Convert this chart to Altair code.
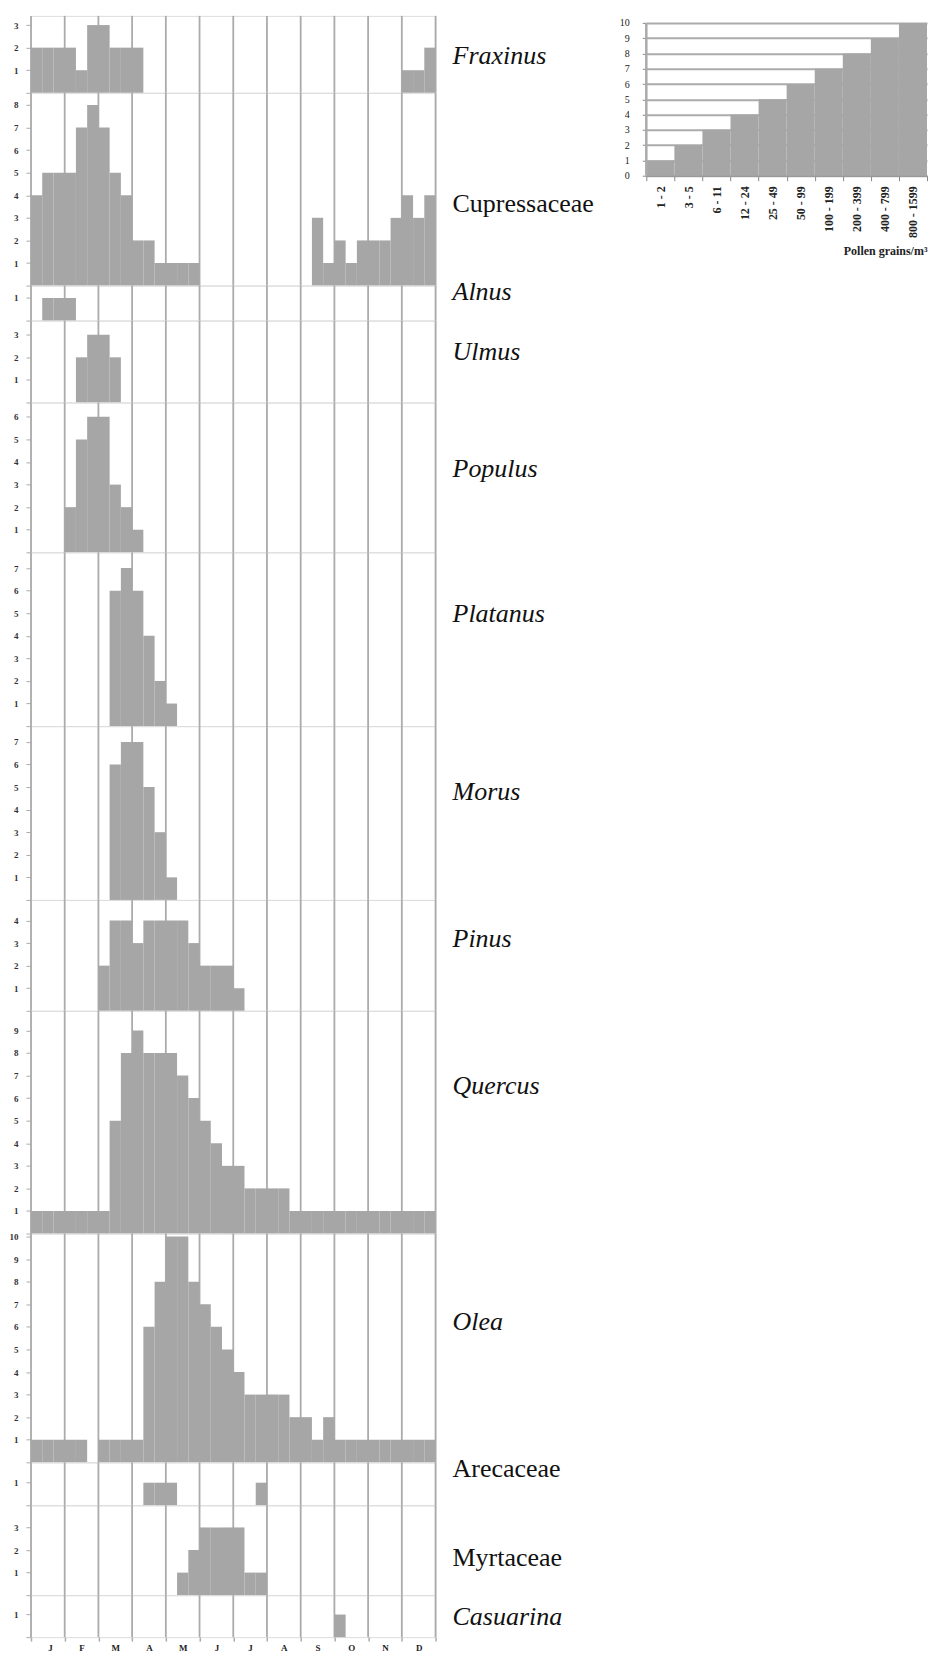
import altair as alt
import pandas as pd

# ---------------- data ----------------
months = ["J", "F", "M", "A", "M", "J", "J", "A", "S", "O", "N", "D"]
month_edges = [0, 3, 6, 9, 12, 15, 18, 21, 24, 27, 30, 33, 36]

taxa = ["Fraxinus", "Cupressaceae", "Alnus", "Ulmus", "Populus", "Platanus",
        "Morus", "Pinus", "Quercus", "Olea", "Arecaceae", "Myrtaceae", "Casuarina"]
italic = [True, False, True, True, True, True, True, True, True, True, False, False, True]

# 36 ten-day periods (3 per month), class values 0-10
fraxinus     = [2,2,2,2,1,3,3,2,2,2, 0,0,0,0,0,0,0,0,0,0, 0,0,0,0,0,0,0,0,0,0, 0,0,0,1,1,2]
cupressaceae = [4,5,5,5,7,8,7,5,4,2, 2,1,1,1,1,0,0,0,0,0, 0,0,0,0,0,3,1,2,1,2, 2,2,3,4,3,4]
alnus        = [0,1,1,1,0,0,0,0,0,0, 0,0,0,0,0,0,0,0,0,0, 0,0,0,0,0,0,0,0,0,0, 0,0,0,0,0,0]
ulmus        = [0,0,0,0,2,3,3,2,0,0, 0,0,0,0,0,0,0,0,0,0, 0,0,0,0,0,0,0,0,0,0, 0,0,0,0,0,0]
populus      = [0,0,0,2,5,6,6,3,2,1, 0,0,0,0,0,0,0,0,0,0, 0,0,0,0,0,0,0,0,0,0, 0,0,0,0,0,0]
platanus     = [0,0,0,0,0,0,0,6,7,6, 4,2,1,0,0,0,0,0,0,0, 0,0,0,0,0,0,0,0,0,0, 0,0,0,0,0,0]
morus        = [0,0,0,0,0,0,0,6,7,7, 5,3,1,0,0,0,0,0,0,0, 0,0,0,0,0,0,0,0,0,0, 0,0,0,0,0,0]
pinus        = [0,0,0,0,0,0,2,4,4,3, 4,4,4,4,3,2,2,2,1,0, 0,0,0,0,0,0,0,0,0,0, 0,0,0,0,0,0]
quercus      = [1,1,1,1,1,1,1,5,8,9, 8,8,8,7,6,5,4,3,3,2, 2,2,2,1,1,1,1,1,1,1, 1,1,1,1,1,1]
olea         = [1,1,1,1,1,0,1,1,1,1, 6,8,10,10,8,7,6,5,4,3, 3,3,3,2,2,1,2,1,1,1, 1,1,1,1,1,1]
arecaceae    = [0,0,0,0,0,0,0,0,0,0, 1,1,1,0,0,0,0,0,0,0, 1,0,0,0,0,0,0,0,0,0, 0,0,0,0,0,0]
myrtaceae    = [0,0,0,0,0,0,0,0,0,0, 0,0,0,1,2,3,3,3,3,1, 1,0,0,0,0,0,0,0,0,0, 0,0,0,0,0,0]
casuarina    = [0,0,0,0,0,0,0,0,0,0, 0,0,0,0,0,0,0,0,0,0, 0,0,0,0,0,0,0,1,0,0, 0,0,0,0,0,0]
series = [fraxinus, cupressaceae, alnus, ulmus, populus, platanus, morus,
          pinus, quercus, olea, arecaceae, myrtaceae, casuarina]

legend_classes = ["1 - 2", "3 - 5", "6 - 11", "12 - 24", "25 - 49", "50 - 99",
                  "100 - 199", "200 - 399", "400 - 799", "800 - 1599"]
legend_levels = [1, 2, 3, 4, 5, 6, 7, 8, 9, 10]
legend_ticks = [0, 1, 2, 3, 4, 5, 6, 7, 8, 9, 10]

# ---------------- layout / style ----------------
W = 405
UNIT = 22.6
heights = [77, 193, 35, 82, 150, 174, 174, 111, 223, 229, 43, 90, 42]
label_dy = [40, 111, 6, 31, 67, 62, 66, 39, 75, 89, 7, 53, 22]
LEG_W, LEG_H, LEG_TOP = 281, 153, 7
BAR = "#a6a6a6"
GRID = "#ababab"
SERIF = "Liberation Serif"

xscale = alt.Scale(domain=[0, 36], nice=False, zero=False)
month_arr = "[" + ",".join("'%s'" % m for m in months) + "]"

panels = []
n = len(taxa)
for i, name in enumerate(taxa):
    h = heights[i]
    ymax = h / UNIT
    vals = series[i]
    df = pd.DataFrame({
        "x0": list(range(36)),
        "x1": [k + 1 for k in range(36)],
        "v": vals,
        "y0": [0] * 36,
    })
    df = df[df["v"] > 0]

    if i == n - 1:
        xaxis = alt.Axis(values=month_edges, title=None, grid=False, domain=False,
                         tickSize=4, tickColor=GRID, tickWidth=1.5,
                         labelOffset=W / 24.0, labelPadding=2,
                         labelExpr="datum.value < 36 ? %s[floor(datum.value/3)] : ''" % month_arr,
                         labelFont=SERIF, labelFontSize=9, labelFontWeight="bold",
                         labelColor="#222")
    else:
        xaxis = None

    yaxis = alt.Axis(values=list(range(0, int(ymax) + 1)), title=None, grid=False,
                     domain=False, tickSize=5, tickColor=GRID, tickWidth=1,
                     labelExpr="datum.value == 0 ? '' : datum.label",
                     labelFont=SERIF, labelFontSize=9, labelFontWeight="bold",
                     labelColor="#333", labelPadding=8)

    rules = alt.Chart(pd.DataFrame({"e": month_edges})).mark_rule(
        color=GRID, strokeWidth=1.8
    ).encode(x=alt.X("e:Q", scale=xscale, axis=xaxis))

    rects = alt.Chart(df).mark_rect(color=BAR).encode(
        x=alt.X("x0:Q", scale=xscale, axis=xaxis),
        x2="x1:Q",
        y=alt.Y("v:Q", scale=alt.Scale(domain=[0, ymax], nice=False, zero=True), axis=yaxis),
        y2="y0:Q",
    )

    label = alt.Chart(pd.DataFrame({"t": [name]})).mark_text(
        align="left", baseline="middle", font=SERIF, fontSize=26,
        fontStyle="italic" if italic[i] else "normal", color="#111"
    ).encode(x=alt.value(W + 17), y=alt.value(label_dy[i]), text="t:N")

    panels.append(alt.layer(rules, rects, label).properties(width=W, height=h))

main = alt.vconcat(*panels, spacing=0, bounds="flush")

# ---------------- scale legend ----------------
df_leg = pd.DataFrame({"cls": legend_classes, "lvl": legend_levels,
                       "base": [0] * len(legend_levels)})
leg_top = 10 * (LEG_H + LEG_TOP) / LEG_H
leg_yscale = alt.Scale(domain=[0, leg_top], nice=False, zero=True)
leg_xaxis = alt.Axis(title="Pollen grains/m³", labelAngle=270, tickBand="extent",
                     tickSize=5, tickColor="#888", domainColor="#999", domainWidth=1.5,
                     labelFont=SERIF, labelFontSize=12, labelFontWeight="bold",
                     labelColor="#222", labelPadding=5,
                     titleFont=SERIF, titleFontSize=12, titleFontWeight="bold",
                     titleColor="#222", titleAnchor="end", titlePadding=8)
leg_yaxis = alt.Axis(values=legend_ticks, title=None, grid=True,
                     gridColor=GRID, gridWidth=2, domain=False,
                     tickSize=4, tickColor="#888",
                     labelFont=SERIF, labelFontSize=10, labelColor="#222",
                     labelPadding=13)
leg_bars = alt.Chart(df_leg).mark_rect(color=BAR).encode(
    x=alt.X("cls:N", sort=legend_classes,
            scale=alt.Scale(paddingInner=0, paddingOuter=0), axis=leg_xaxis),
    y=alt.Y("lvl:Q", scale=leg_yscale, axis=leg_yaxis),
    y2="base:Q",
)
leg_frame = alt.Chart(df_leg).transform_filter(alt.datum.lvl == 10).mark_rule(
    color=GRID, strokeWidth=2.5
).encode(
    x=alt.value(0),
    y=alt.Y("lvl:Q", scale=leg_yscale, axis=leg_yaxis),
    y2="base:Q",
)
legend = alt.layer(leg_bars, leg_frame).properties(
    width=LEG_W, height=LEG_H + LEG_TOP,
    view=alt.ViewBackground(stroke="transparent"),
)

chart = alt.hconcat(main, legend, spacing=616, bounds="flush").configure_view(
    stroke=GRID, strokeWidth=1.5
).properties(
    padding={"left": 0, "top": 5, "right": 0, "bottom": 0}
).configure(background="white")

chart.save("out.html", embed_options={"renderer": "svg", "actions": False})
